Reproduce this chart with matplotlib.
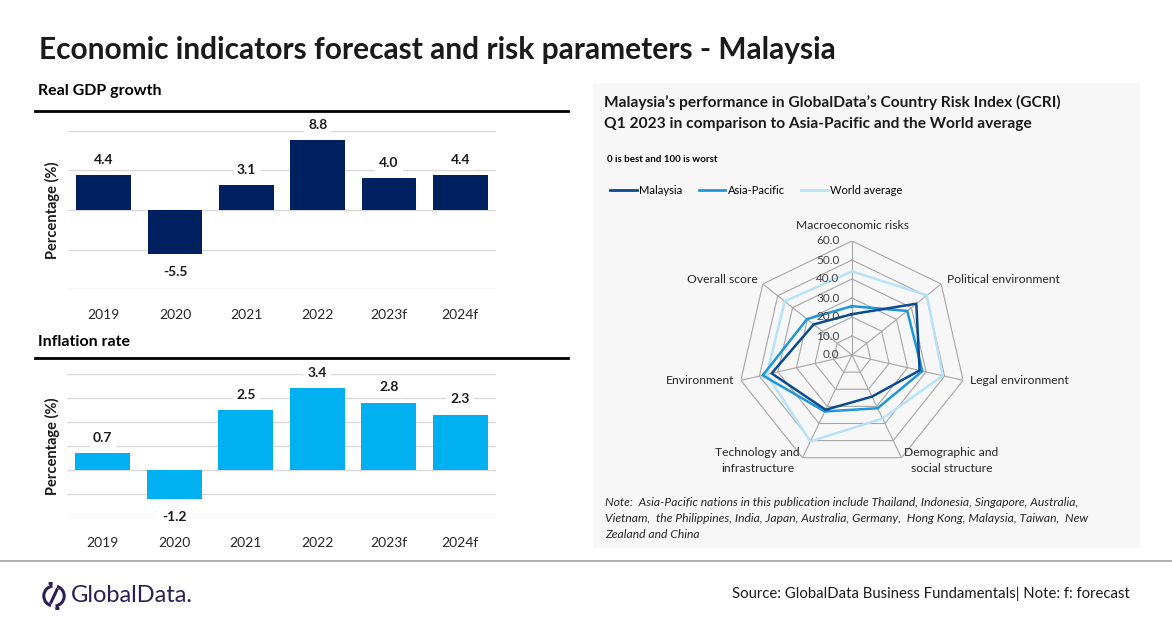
import numpy as np
import matplotlib
matplotlib.use("Agg")
import matplotlib.pyplot as plt
from matplotlib.lines import Line2D
from matplotlib.patches import Rectangle, Arc, Circle

plt.rcParams['font.family'] = ['Lato', 'DejaVu Sans']

W, H = 1172, 628

# Daten
years = ['2019', '2020', '2021', '2022', '2023f', '2024f']
gdp = [4.4, -5.5, 3.1, 8.8, 4.0, 4.4]
inflation = [0.7, -1.2, 2.5, 3.4, 2.8, 2.3]

risk_labels = ['Macroeconomic risks', 'Political environment', 'Legal environment',
               'Demographic and\nsocial structure', 'Technology and\ninfrastructure',
               'Environment', 'Overall score']
malaysia = [21.5, 43.3, 36.5, 24.3, 32.0, 43.4, 25.8]
asia_pacific = [25.7, 37.2, 38.0, 31.1, 33.0, 48.2, 30.3]
world_avg = [44.0, 50.4, 49.0, 37.1, 50.5, 46.0, 45.3]
r_ticks = [0, 10, 20, 30, 40, 50, 60]

GDP_COLOR = '#002060'
INF_COLOR = '#00b0f0'
C_MY = '#0b4a8f'
C_AP = '#1c97d8'
C_WA = '#b8e2f8'
GRID = '#d9d9d9'
LOGO = '#2b1f55'


def box(x0, y0, x1, y1):
    # Pixelkoordinaten -> Figure-Koordinaten
    return [x0 / W, 1 - y1 / H, (x1 - x0) / W, (y1 - y0) / H]


def fx(x):
    return x / W


def fy(y):
    return 1 - y / H


fig = plt.figure(figsize=(W / 100, H / 100), dpi=100)
fig.patch.set_facecolor('white')

# Titel
fig.text(fx(39), fy(50), 'Economic indicators forecast and risk parameters - Malaysia',
         fontsize=21.5, fontweight='bold', va='center', ha='left', color='#1a1a1a')


def bar_panel(rect, values, color, ylim, ticks, label_y):
    ax = fig.add_axes(rect)
    x = np.arange(len(values))
    ax.bar(x, values, width=0.77, color=color, zorder=2)
    ax.set_xlim(-0.5, len(values) - 0.5)
    ax.set_ylim(*ylim)
    ax.set_yticks(ticks)
    ax.yaxis.grid(True, color=GRID, linewidth=1, zorder=0)
    ax.set_axisbelow(True)
    ax.set_xticks(x)
    ax.set_xticklabels(years, fontsize=10, color='#262626')
    ax.tick_params(axis='x', length=0, pad=14)
    ax.tick_params(axis='y', length=0, labelleft=False)
    for s in ax.spines.values():
        s.set_visible(False)
    for xi, v in zip(x, values):
        off = 11 if v >= 0 else -13
        ax.annotate(f'{v:.1f}', (xi, v), xytext=(0, off), textcoords='offset points',
                    ha='center', va='center', fontsize=10, fontweight='bold', color='#1a1a1a',
                    bbox=dict(boxstyle='square,pad=0.3', fc='white', ec='none'), zorder=3)
    fig.text(fx(52), label_y, 'Percentage (%)', rotation=90, fontsize=10.5,
             fontweight='bold', ha='center', va='center', color='#1a1a1a')
    return ax


# Real GDP growth
fig.text(fx(38), fy(91), 'Real GDP growth', fontsize=11.5, fontweight='bold', va='center')
fig.add_artist(Line2D([fx(35), fx(568)], [fy(111), fy(111)], color='black', lw=2))
bar_panel(box(68, 130.7, 496, 289.3), gdp, GDP_COLOR, (-10, 10), [-10, -5, 0, 5, 10], fy(210))

# Inflation rate
fig.text(fx(38), fy(342), 'Inflation rate', fontsize=11.5, fontweight='bold', va='center')
fig.add_artist(Line2D([fx(35), fx(568)], [fy(358), fy(358)], color='black', lw=2))
bar_panel(box(67, 374, 496, 517.7), inflation, INF_COLOR, (-2, 4), [-2, -1, 0, 1, 2, 3, 4], fy(446))

# Grauer Kasten rechts
fig.add_artist(Rectangle((fx(593), fy(548)), (1140 - 593) / W, (548 - 83) / H,
                         transform=fig.transFigure, fc='#f7f7f7', ec='none', zorder=0))
fig.text(fx(604), fy(102), 'Malaysia\u2019s performance in GlobalData\u2019s Country Risk Index (GCRI)',
         fontsize=11.2, fontweight='bold', va='center', color='#1a1a1a')
fig.text(fx(604), fy(124), 'Q1 2023 in comparison to Asia-Pacific and the World average',
         fontsize=11.2, fontweight='bold', va='center', color='#1a1a1a')
fig.text(fx(607), fy(160), '0 is best and 100 is worst', fontsize=7, fontweight='bold', va='center')

# Radar
cx, cy, rad = 852, 355, 114
rax = fig.add_axes(box(cx - rad, cy - rad, cx + rad, cy + rad), projection='polar')
rax.set_facecolor('none')
rax.set_theta_zero_location('N')
rax.set_theta_direction(-1)
n = len(risk_labels)
ang = np.linspace(0, 2 * np.pi, n, endpoint=False)
ang_c = np.append(ang, ang[0])
rax.set_ylim(0, 60)
rax.grid(False)
rax.spines['polar'].set_visible(False)
rax.set_xticks([])
rax.set_yticks([])
for r in r_ticks[1:]:
    rax.plot(ang_c, [r] * (n + 1), color='#a6a6a6', lw=0.8, zorder=1)
for a in ang:
    rax.plot([a, a], [0, 60], color='#a6a6a6', lw=0.8, zorder=1)
for vals, col, name in [(world_avg, C_WA, 'World average'),
                        (asia_pacific, C_AP, 'Asia-Pacific'),
                        (malaysia, C_MY, 'Malaysia')]:
    rax.plot(ang_c, vals + vals[:1], color=col, lw=1.8, zorder=3, label=name)
for r in r_ticks:
    rax.annotate(f'{r:.1f}', (0, r), xytext=(-9, 0), textcoords='offset points',
                 ha='right', va='center', fontsize=8.5, color='#404040')
lab_style = [('center', 'bottom', 60, (0, 7)),
             ('left', 'center', 60, (4, 3)),
             ('left', 'center', 60, (5, 0)),
             ('left', 'center', 60, (2, -2)),
             ('right', 'center', 60, (-2, -2)),
             ('right', 'center', 60, (-5, 0)),
             ('right', 'center', 60, (-4, 3))]
for a, lab, (ha, va, r, off) in zip(ang, risk_labels, lab_style):
    rax.annotate(lab, (a, r), xytext=off, textcoords='offset points', ha=ha, va=va,
                 fontsize=8.7, color='#262626', linespacing=1.45,
                 multialignment='center', annotation_clip=False)

h = [Line2D([], [], color=C_MY, lw=2), Line2D([], [], color=C_AP, lw=2),
     Line2D([], [], color=C_WA, lw=2)]
fig.legend(h, ['Malaysia', 'Asia-Pacific', 'World average'], ncol=3, frameon=False,
           loc='center left', bbox_to_anchor=(fx(600), fy(190)), fontsize=8,
           handlelength=2.4, handletextpad=0.2, columnspacing=1.5)

note = ['Note:  Asia-Pacific nations in this publication include Thailand, Indonesia, Singapore, Australia,',
        'Vietnam,  the Philippines, India, Japan, Australia, Germany,  Hong Kong, Malaysia, Taiwan,  New',
        'Zealand and China']
for i, line in enumerate(note):
    fig.text(fx(605), fy(503 + 16 * i), line, fontsize=8.7, style='italic', va='center', color='#262626')

# Fusszeile
fig.add_artist(Line2D([0, 1], [fy(561), fy(561)], color='#a0a0a0', lw=1.2))
lax = fig.add_axes(box(42, 582, 66, 610))
lax.set_xlim(0, 1)
lax.set_ylim(0, 1)
lax.axis('off')
lax.add_patch(Arc((0.5, 0.5), 0.85, 0.72, theta1=100, theta2=250, color=LOGO, lw=2.2))
lax.add_patch(Arc((0.5, 0.5), 0.85, 0.72, theta1=280, theta2=70, color=LOGO, lw=2.2))
lax.add_line(Line2D([0.62, 0.38], [0.72, 0.28], color=LOGO, lw=2.2))
lax.add_patch(Circle((0.36, 0.95), 0.06, color=LOGO))
lax.add_patch(Circle((0.64, 0.05), 0.06, color=LOGO))
fig.text(fx(71), fy(596), 'GlobalData.', fontsize=17, color=LOGO, va='center', ha='left')
fig.text(fx(1130), fy(594), 'Source: GlobalData Business Fundamentals| Note: f: forecast',
         fontsize=10.7, va='center', ha='right', color='#1a1a1a')

fig.savefig('out.png', dpi=100)
